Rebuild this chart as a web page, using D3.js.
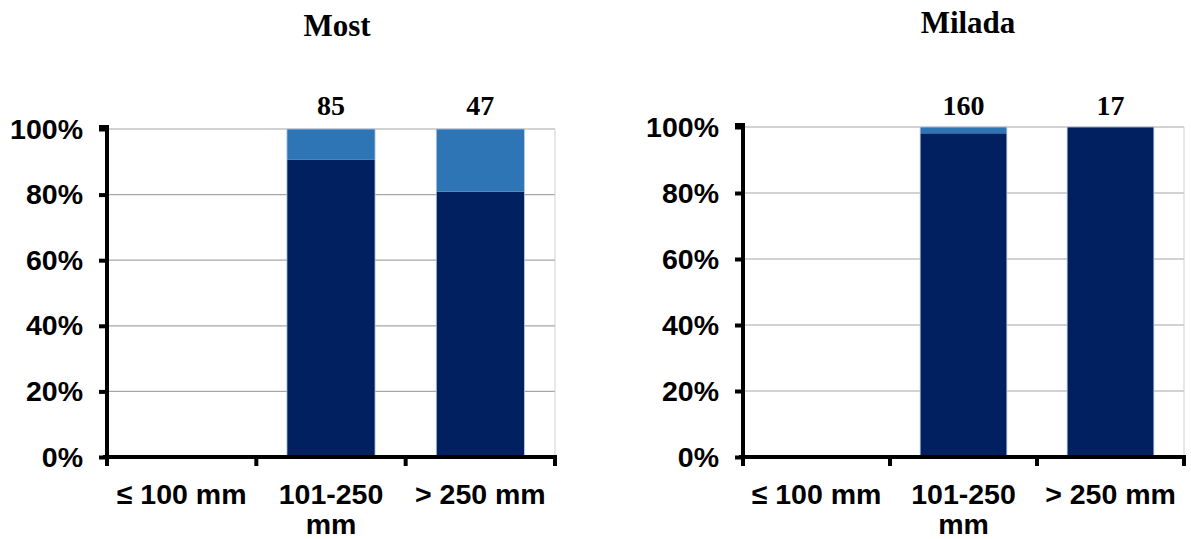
<!DOCTYPE html>
<html><head><meta charset="utf-8">
<script src="https://cdn.jsdelivr.net/npm/d3@7"></script>
<style>body{margin:0;background:#fff}svg{display:block}</style>
</head><body>
<svg id="chart" width="1191" height="539"></svg>
<script>
const categories = ["≤ 100 mm", "101-250\nmm", "> 250 mm"];
const panelTitles = ["Most", "Milada"];
const mostDark = [0, 90.6, 80.9];
const mostMid = [0, 9.4, 19.1];
const mostCounts = [null, 85, 47];
const miladaDark = [0, 98.1, 100];
const miladaMid = [0, 1.9, 0];
const miladaCounts = [null, 160, 17];
const yTicks = [0, 20, 40, 60, 80, 100];

const colors = {dark: "#002060", mid: "#2E75B6"};
const svg = d3.select("#chart");

const panels = [
  {title: panelTitles[0], dark: mostDark, mid: mostMid, counts: mostCounts, x0: 107, x1: 555, yTop: 129, titleX: 337, titleY: 36},
  {title: panelTitles[1], dark: miladaDark, mid: miladaMid, counts: miladaCounts, x0: 743, x1: 1184, yTop: 127, titleX: 968, titleY: 33}
];
const yBottom = 457;

panels.forEach(p => {
  const g = svg.append("g");
  const x = d3.scaleBand().domain(categories).range([p.x0, p.x1]).paddingInner(0.41).paddingOuter(0.205);
  const xb = d3.scaleBand().domain(categories).range([p.x0, p.x1]);
  const y = d3.scaleLinear().domain([0, 100]).range([yBottom, p.yTop]);

  // gridlines
  g.selectAll(".grid").data(yTicks.filter(t => t > 0)).join("line")
    .attr("x1", p.x0).attr("x2", p.x1)
    .attr("y1", d => y(d)).attr("y2", d => y(d))
    .attr("stroke", "#a6a6a6").attr("stroke-width", 1.2);
  // right border
  g.append("line").attr("x1", p.x1).attr("x2", p.x1).attr("y1", y(100)).attr("y2", yBottom)
    .attr("stroke", "#d0d0d0").attr("stroke-width", 1);

  // bars
  const data = categories.map((c, i) => ({c, dark: p.dark[i], mid: p.mid[i], n: p.counts[i]}));
  g.selectAll(".bd").data(data.filter(d => d.dark > 0)).join("rect")
    .attr("x", d => x(d.c)).attr("width", x.bandwidth())
    .attr("y", d => y(d.dark)).attr("height", d => y(0) - y(d.dark))
    .attr("fill", colors.dark);
  g.selectAll(".bm").data(data.filter(d => d.mid > 0)).join("rect")
    .attr("x", d => x(d.c)).attr("width", x.bandwidth())
    .attr("y", d => y(d.dark + d.mid)).attr("height", d => y(d.dark) - y(d.dark + d.mid))
    .attr("fill", colors.mid);
  g.selectAll(".bo").data(data.filter(d => d.dark + d.mid > 0)).join("rect")
    .attr("x", d => x(d.c)).attr("width", x.bandwidth())
    .attr("y", d => y(d.dark + d.mid)).attr("height", d => y(0) - y(d.dark + d.mid))
    .attr("fill", "none").attr("stroke", "#b8c8e4").attr("stroke-width", 0.8);

  // count labels
  g.selectAll(".cnt").data(data.filter(d => d.n != null)).join("text")
    .attr("x", d => x(d.c) + x.bandwidth() / 2).attr("y", 115)
    .attr("text-anchor", "middle")
    .attr("font-family", "'Liberation Serif', 'Times New Roman', serif")
    .attr("font-weight", "bold").attr("font-size", 28)
    .text(d => d.n);

  // y axis
  const yAxis = d3.axisLeft(y).tickValues(yTicks).tickSize(8).tickPadding(16).tickFormat(d => d + "%");
  const ya = g.append("g").attr("transform", `translate(${p.x0},0)`).call(yAxis);
  ya.select(".domain").attr("stroke", "#000").attr("stroke-width", 4).attr("d", `M-8,${p.yTop - 2}H0V${yBottom + 2}`);
  ya.selectAll(".tick line").attr("stroke", "#000").attr("stroke-width", 4);
  ya.selectAll(".tick text")
    .attr("font-family", "'Liberation Sans', Arial, sans-serif")
    .attr("font-weight", "bold").attr("font-size", 28.5).attr("fill", "#000");

  // x axis
  const boundaries = categories.map(c => xb(c)).concat([p.x1]);
  g.append("line").attr("x1", p.x0 - 4).attr("x2", p.x1 + 2).attr("y1", yBottom).attr("y2", yBottom)
    .attr("stroke", "#000").attr("stroke-width", 4);
  g.selectAll(".xt").data(boundaries).join("line")
    .attr("x1", d => d).attr("x2", d => d).attr("y1", yBottom).attr("y2", yBottom + 9)
    .attr("stroke", "#000").attr("stroke-width", 4);
  const labels = g.selectAll(".xl").data(categories).join("text")
    .attr("text-anchor", "middle")
    .attr("font-family", "'Liberation Sans', Arial, sans-serif")
    .attr("font-weight", "bold").attr("font-size", 28.5).attr("fill", "#000");
  labels.each(function(c) {
    const t = d3.select(this);
    c.split("\n").forEach((line, i) => {
      t.append("tspan").attr("x", xb(c) + xb.bandwidth() / 2).attr("y", 504 + i * 30).text(line);
    });
  });

  // title
  g.append("text").attr("x", p.titleX).attr("y", p.titleY).attr("text-anchor", "middle")
    .attr("font-family", "'Liberation Serif', 'Times New Roman', serif")
    .attr("font-weight", "bold").attr("font-size", 31).text(p.title);
});
</script>
</body></html>
